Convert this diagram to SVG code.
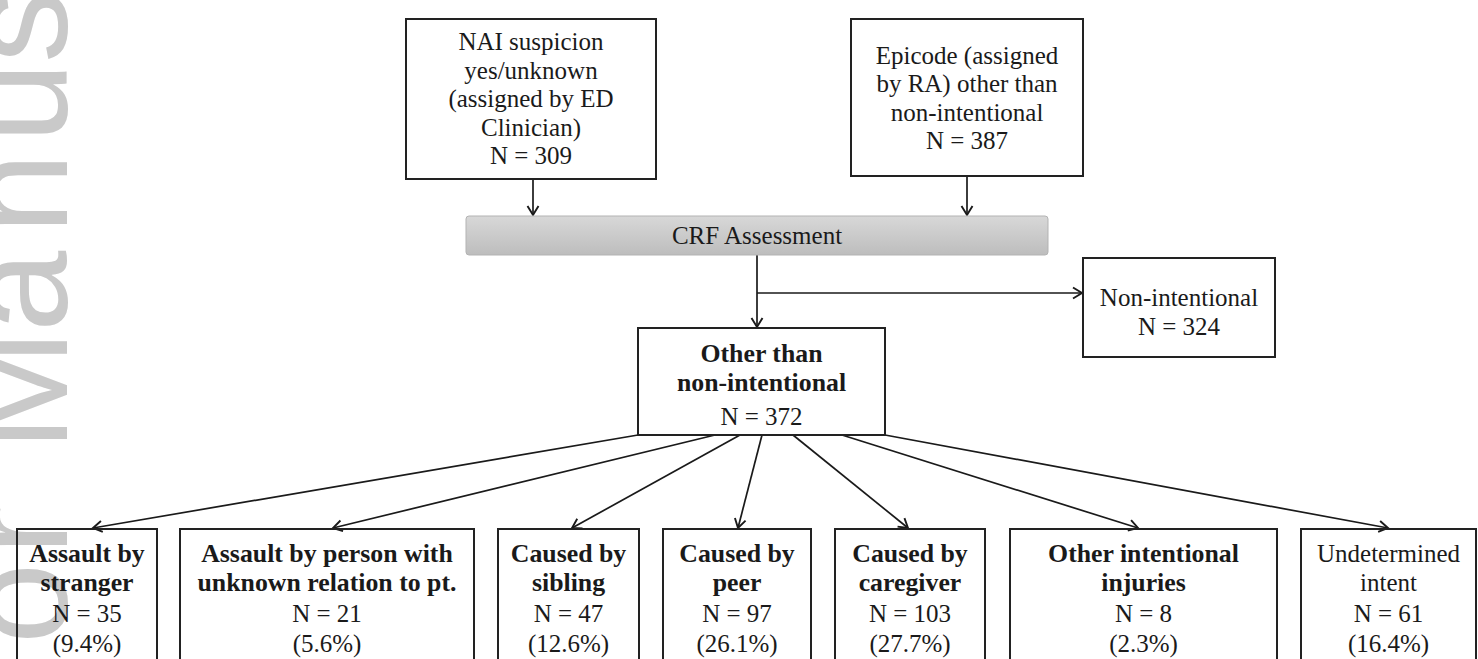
<svg xmlns="http://www.w3.org/2000/svg" width="1478" height="659" viewBox="0 0 1478 659">
<defs>
<style>
.box{fill:none;stroke:#222;stroke-width:2}
.t{font-family:'Liberation Serif','Times New Roman','DejaVu Serif',serif;font-size:25px;fill:#1a1a1a;text-anchor:middle}
.b{font-weight:bold;font-size:25.8px}
.con{stroke:#1a1a1a;stroke-width:1.7;fill:none}
.wm{font-family:'Liberation Sans',Arial,sans-serif;font-size:146px;fill:#c9c9c9}
</style>
<marker id="arr" markerUnits="userSpaceOnUse" markerWidth="14" markerHeight="14" refX="11" refY="7" orient="auto">
<path d="M2,1.5 L11,7 L2,12.5" fill="none" stroke="#1a1a1a" stroke-width="1.9"/>
</marker>
<linearGradient id="gr" x1="0" y1="0" x2="0" y2="1">
<stop offset="0" stop-color="#d8d8d8"/>
<stop offset="1" stop-color="#bdbdbd"/>
</linearGradient>
</defs>
<rect width="1478" height="659" fill="#ffffff"/>
<text class="wm" transform="translate(67,0) rotate(-90)" x="-644 -555 -500 -451 -332 -234 -143 -63" y="0">or Manus</text>

<g id="connectors">
<line class="con" x1="533" y1="179" x2="533" y2="215" marker-end="url(#arr)"/>
<line class="con" x1="967" y1="176" x2="967" y2="215" marker-end="url(#arr)"/>
<line class="con" x1="757" y1="255" x2="757" y2="327" marker-end="url(#arr)"/>
<line class="con" x1="757" y1="293" x2="1082" y2="293" marker-end="url(#arr)"/>
<line class="con" x1="638" y1="435" x2="93" y2="528" marker-end="url(#arr)"/>
<line class="con" x1="715" y1="435" x2="333" y2="528" marker-end="url(#arr)"/>
<line class="con" x1="740" y1="435" x2="572" y2="528" marker-end="url(#arr)"/>
<line class="con" x1="762" y1="435" x2="738" y2="528" marker-end="url(#arr)"/>
<line class="con" x1="793" y1="435" x2="908" y2="528" marker-end="url(#arr)"/>
<line class="con" x1="842" y1="435" x2="1138" y2="528" marker-end="url(#arr)"/>
<line class="con" x1="885" y1="435" x2="1388" y2="528" marker-end="url(#arr)"/>
</g>

<g id="nai">
<rect class="box" x="406" y="19" width="250" height="160"/>
<text class="t" x="531" y="50">NAI suspicion</text>
<text class="t" x="531" y="78.5">yes/unknown</text>
<text class="t" x="531" y="107">(assigned by ED</text>
<text class="t" x="531" y="135.5">Clinician)</text>
<text class="t" x="531" y="164">N = 309</text>
</g>

<g id="epicode">
<rect class="box" x="851" y="19" width="232" height="157"/>
<text class="t" x="967" y="64">Epicode (assigned</text>
<text class="t" x="967" y="92">by RA) other than</text>
<text class="t" x="967" y="120.5">non-intentional</text>
<text class="t" x="967" y="149">N = 387</text>
</g>

<g id="crf">
<rect x="466" y="216" width="582" height="39" rx="3" fill="url(#gr)" stroke="#b3b3b3" stroke-width="1"/>
<text class="t" x="757" y="244">CRF Assessment</text>
</g>

<g id="nonint">
<rect class="box" x="1083" y="258" width="192" height="99"/>
<text class="t" x="1179" y="306">Non-intentional</text>
<text class="t" x="1179" y="335">N = 324</text>
</g>

<g id="other">
<rect class="box" x="638" y="328" width="247" height="107"/>
<text class="t b" x="761.5" y="362">Other than</text>
<text class="t b" x="761.5" y="391">non-intentional</text>
<text class="t" x="761.5" y="425">N = 372</text>
</g>

<g id="stranger">
<rect class="box" x="17" y="529" width="140" height="150"/>
<text class="t b" x="87" y="562">Assault by</text>
<text class="t b" x="87" y="591">stranger</text>
<text class="t" x="87" y="622">N = 35</text>
<text class="t" x="87" y="652">(9.4%)</text>
</g>

<g id="unknown">
<rect class="box" x="180" y="529" width="294" height="150"/>
<text class="t b" x="327" y="562">Assault by person with</text>
<text class="t b" x="327" y="591">unknown relation to pt.</text>
<text class="t" x="327" y="622">N = 21</text>
<text class="t" x="327" y="652">(5.6%)</text>
</g>

<g id="sibling">
<rect class="box" x="498" y="529" width="141" height="150"/>
<text class="t b" x="568.5" y="562">Caused by</text>
<text class="t b" x="568.5" y="591">sibling</text>
<text class="t" x="568.5" y="622">N = 47</text>
<text class="t" x="568.5" y="652">(12.6%)</text>
</g>

<g id="peer">
<rect class="box" x="663" y="529" width="148" height="150"/>
<text class="t b" x="737" y="562">Caused by</text>
<text class="t b" x="737" y="591">peer</text>
<text class="t" x="737" y="622">N = 97</text>
<text class="t" x="737" y="652">(26.1%)</text>
</g>

<g id="caregiver">
<rect class="box" x="835" y="529" width="150" height="150"/>
<text class="t b" x="910" y="562">Caused by</text>
<text class="t b" x="910" y="591">caregiver</text>
<text class="t" x="910" y="622">N = 103</text>
<text class="t" x="910" y="652">(27.7%)</text>
</g>

<g id="otherint">
<rect class="box" x="1010" y="529" width="267" height="150"/>
<text class="t b" x="1143.5" y="562">Other intentional</text>
<text class="t b" x="1143.5" y="591">injuries</text>
<text class="t" x="1143.5" y="622">N = 8</text>
<text class="t" x="1143.5" y="652">(2.3%)</text>
</g>

<g id="undetermined">
<rect class="box" x="1301" y="529" width="175" height="150"/>
<text class="t" x="1388.5" y="562">Undetermined</text>
<text class="t" x="1388.5" y="591">intent</text>
<text class="t" x="1388.5" y="622">N = 61</text>
<text class="t" x="1388.5" y="652">(16.4%)</text>
</g>
</svg>
